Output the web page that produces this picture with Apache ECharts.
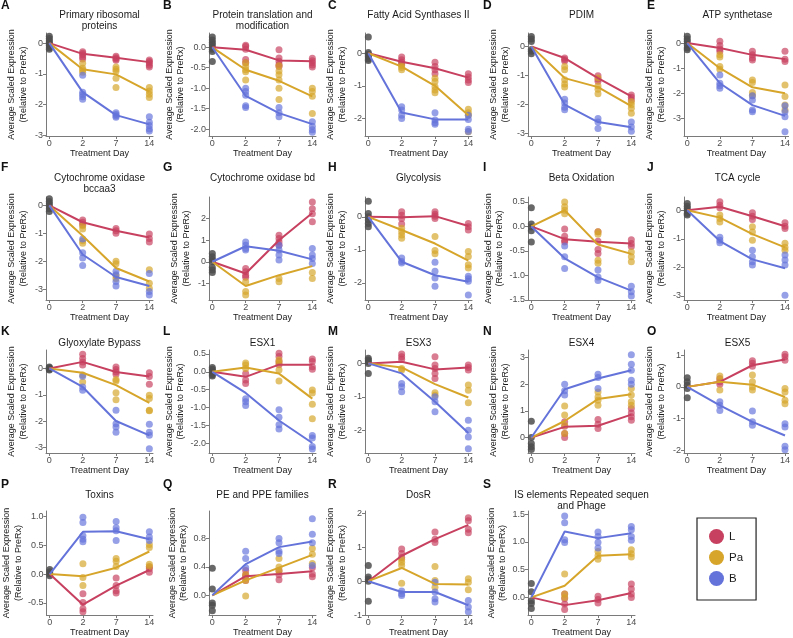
<!DOCTYPE html>
<html>
<head>
<meta charset="utf-8">
<script src="https://cdn.jsdelivr.net/npm/echarts@6/dist/echarts.min.js"></script>
<style>
html, body { margin: 0; padding: 0; background: #fff; }
#chart { width: 793px; height: 638px; }
</style>
</head>
<body>
<div id="chart"></div>
<script>
// treatment days (x categories) and groups
const days = ['0', '2', '7', '14'];
const groups = ['L', 'Pa', 'B'];
const groupColors = ['#C7405F', '#D6A52A', '#6473DA'];
const preColor = '#4D4D4D';

// per panel: pre = day 0 replicates, X_L / X_Pa / X_B = replicates at days 2, 7, 14,
// X_mean = line values (L, Pa, B) at days 2, 7, 14 (all lines start at 0 on day 0)
const A_pre = [0.22, 0.15, 0.08, 0.02, -0.03, -0.08, -0.15, -0.2];
const A_L = [[-0.28, -0.33, -0.38, -0.45, -0.52], [-0.43, -0.48, -0.52, -0.56], [-0.55, -0.6, -0.65, -0.72, -0.78]];
const A_Pa = [[-0.66, -0.82, -0.88, -0.95], [-0.78, -0.85, -0.92, -1.15, -1.45], [-1.45, -1.56, -1.67, -1.77]];
const A_B = [[-1.05, -1.6, -1.68, -1.75, -1.83], [-2.27, -2.33, -2.38, -2.42], [-2.4, -2.58, -2.69, -2.8, -2.87]];
const A_mean = [[-0.35, -0.48, -0.62], [-0.85, -1.02, -1.58], [-1.6, -2.35, -2.65]];

const B_pre = [0.25, 0.18, 0.12, 0.06, 0.0, -0.05, -0.1, -0.35];
const B_L = [[0.05, 0.02, -0.05, -0.3, -0.38], [-0.06, -0.26, -0.34, -0.42, -0.47], [-0.27, -0.33, -0.38, -0.43, -0.48]];
const B_Pa = [[-0.38, -0.47, -0.55, -0.6, -0.8], [-0.45, -0.58, -0.67, -0.8, -1.0, -1.28], [-1.0, -1.08, -1.2, -1.62]];
const B_B = [[-1.0, -1.08, -1.17, -1.43, -1.47], [-1.47, -1.6, -1.7], [-1.82, -1.93, -2.02, -2.08]];
const B_mean = [[-0.06, -0.32, -0.34], [-0.55, -0.82, -1.2], [-1.19, -1.61, -1.88]];

const C_pre = [0.5, 0.02, -0.03, -0.08, -0.12, -0.18, -0.22];
const C_L = [[-0.12, -0.2, -0.28, -0.33], [-0.28, -0.41, -0.51, -0.63], [-0.63, -0.73, -0.82, -0.9]];
const C_Pa = [[-0.38, -0.44, -0.51], [-0.77, -0.87, -1.03, -1.13, -1.21], [-1.72, -1.83, -1.9, -2.41]];
const C_B = [[-1.64, -1.74, -1.9, -2.0], [-1.83, -2.05, -2.13, -2.18], [-1.9, -2.03, -2.33, -2.4]];
const C_mean = [[-0.26, -0.46, -0.75], [-0.41, -1.0, -1.9], [-1.82, -2.03, -2.03]];

const D_pre = [0.34, 0.25, 0.17, -0.11, -0.17, -0.25];
const D_L = [[-0.4, -0.45, -0.5], [-1.01, -1.12, -1.2], [-1.67, -1.75, -1.84]];
const D_Pa = [[-0.69, -0.8, -1.15, -1.29, -1.4], [-1.09, -1.36, -1.47, -1.63], [-1.9, -2.01, -2.13, -2.3]];
const D_B = [[-1.82, -1.95, -2.09, -2.18], [-2.48, -2.6, -2.82], [-2.6, -2.77, -2.92]];
const D_mean = [[-0.4, -1.09, -1.72], [-1.09, -1.4, -2.05], [-2.0, -2.6, -2.78]];

const E_pre = [0.27, 0.16, 0.07, -0.07, -0.2, -0.27];
const E_L = [[0.07, -0.1, -0.24, -0.33], [-0.33, -0.47, -0.6, -0.67], [-0.33, -0.64, -0.73]];
const E_Pa = [[-0.47, -0.56, -0.93, -1.04], [-1.47, -1.57, -1.97, -2.1], [-1.67, -2.13, -2.47, -2.67]];
const E_B = [[-1.27, -1.6, -1.7, -1.8], [-2.1, -2.27, -2.67, -2.73], [-2.5, -2.73, -2.93, -3.53]];
const E_mean = [[-0.2, -0.47, -0.64], [-1.0, -1.76, -2.0], [-1.6, -2.47, -2.9]];

const F_pre = [0.24, 0.14, 0.06, -0.02, -0.12, -0.22];
const F_L = [[-0.52, -0.6, -0.69], [-0.82, -0.9, -0.99], [-1.02, -1.18, -1.3]];
const F_Pa = [[-0.72, -0.84, -1.26, -1.35], [-1.99, -2.08, -2.51, -2.6], [-2.29, -2.77, -2.95]];
const F_B = [[-1.2, -1.69, -1.87, -2.14], [-2.35, -2.47, -2.71, -2.87], [-2.43, -3.07, -3.19]];
const F_mean = [[-0.6, -0.9, -1.14], [-1.08, -2.23, -2.71], [-1.75, -2.55, -2.87]];

const G_pre = [0.38, 0.23, 0.11, 0.0, -0.26, -0.38, -0.5];
const G_L = [[-0.31, -0.46, -0.62, -0.72], [1.23, 1.08, 0.92, 0.77], [2.77, 2.46, 2.23, 1.85]];
const G_Pa = [[-0.92, -1.38, -1.54], [-0.77, -0.92], [-0.5, -0.77]];
const G_B = [[0.92, 0.77, 0.62, 0.54], [0.77, 0.54, 0.31, 0.08], [0.62, 0.31, 0.15, -0.08]];
const G_mean = [[-0.54, 1.0, 2.26], [-1.12, -0.62, -0.2], [0.72, 0.51, 0.11]];

const H_pre = [0.47, 0.1, 0.0, -0.1, -0.2, -0.3];
const H_L = [[0.15, 0.05, -0.05, -0.22], [0.15, 0.08, 0.02, -0.05], [-0.2, -0.3, -0.4]];
const H_Pa = [[-0.35, -0.45, -0.55, -0.65], [-0.6, -1.02, -1.12], [-1.05, -1.2, -1.45, -1.55]];
const H_B = [[-1.25, -1.35, -1.4], [-1.38, -1.65, -1.85, -2.1], [-1.8, -1.88, -1.95, -2.37]];
const H_mean = [[-0.01, 0.02, -0.28], [-0.4, -0.81, -1.33], [-1.36, -1.77, -1.97]];

const I_pre = [0.38, 0.05, -0.01, -0.09, -0.32];
const I_L = [[-0.05, -0.2, -0.28, -0.32], [-0.11, -0.3, -0.47, -0.55], [-0.27, -0.35, -0.41]];
const I_Pa = [[0.5, 0.4, 0.33, 0.26], [-0.11, -0.16, -0.69, -0.75], [-0.52, -0.62, -0.72]];
const I_B = [[-0.4, -0.62, -0.86], [-0.89, -1.03, -1.1], [-1.22, -1.33, -1.42]];
const I_mean = [[-0.26, -0.31, -0.35], [0.33, -0.37, -0.56], [-0.65, -1.04, -1.31]];

const J_pre = [0.23, 0.14, 0.06, -0.02, -0.12, -0.17];
const J_L = [[0.29, 0.17, 0.08], [-0.09, -0.21, -0.33], [-0.44, -0.56, -0.64]];
const J_Pa = [[-0.17, -0.29, -0.41], [-0.58, -0.76, -1.05], [-1.16, -1.3, -1.4]];
const J_B = [[-0.95, -1.05, -1.14], [-1.4, -1.63, -1.8, -1.92], [-1.57, -1.74, -1.92, -2.97]];
const J_mean = [[0.12, -0.21, -0.56], [-0.26, -0.84, -1.3], [-1.08, -1.72, -2.03]];

const K_pre = [0.06, 0.03, 0.0, -0.03, -0.06];
const K_L = [[0.54, 0.38, 0.25, 0.13], [0.06, -0.04, -0.13, -0.22], [-0.16, -0.3, -0.6]];
const K_Pa = [[-0.25, -0.51], [-0.42, -0.47, -0.92, -1.18], [-1.01, -1.14, -1.58, -1.6]];
const K_B = [[-0.29, -0.7, -0.82], [-1.58, -2.09, -2.22, -2.41], [-2.11, -2.41, -2.53, -3.04]];
const K_mean = [[0.25, -0.13, -0.3], [-0.16, -0.63, -1.3], [-0.7, -1.99, -2.53]];

const L_pre = [0.12, 0.07, 0.02, -0.03, -0.08, -0.12];
const L_L = [[-0.05, -0.23, -0.33], [0.52, 0.43, 0.29, 0.2], [0.36, 0.29, 0.14, 0.07]];
const L_Pa = [[0.25, 0.19, 0.09], [0.33, 0.25, 0.05, -0.26], [-0.51, -0.59, -0.91, -1.31]];
const L_B = [[-0.75, -0.84, -0.94], [-1.06, -1.27, -1.48, -1.6], [-1.78, -1.85, -2.09, -2.16]];
const L_mean = [[-0.14, 0.2, 0.2], [0.12, -0.05, -0.75], [-0.59, -1.36, -1.99]];

const M_pre = [0.15, 0.1, 0.05, 0.0, -0.3];
const M_L = [[0.28, 0.2, 0.12], [0.2, -0.05, -0.15, -0.3, -0.45], [-0.05, -0.12, -0.2]];
const M_Pa = [[-0.15, -0.2], [-0.88, -0.95], [-0.65, -0.8, -1.18]];
const M_B = [[-0.6, -0.7, -0.85], [-1.0, -1.15, -1.45], [-1.7, -2.0, -2.2, -2.55]];
const M_mean = [[0.05, -0.18, -0.12], [-0.12, -0.62, -1.02], [-0.3, -1.15, -2.08]];

const N_pre = [0.61, 0.0, -0.22, -0.35, -0.45];
const N_L = [[0.59, 0.42, 0.15, 0.0], [0.68, 0.5, 0.34], [1.09, 0.92, 0.78, 0.65]];
const N_Pa = [[1.18, 0.84, 0.46, 0.15], [1.71, 1.52, 1.4, 1.21], [1.84, 1.59, 1.34, 1.21]];
const N_B = [[2.0, 1.75, 1.59], [2.37, 2.25, 1.84], [3.1, 2.75, 2.52, 2.15, 2.0]];
const N_mean = [[0.4, 0.44, 0.86], [0.62, 1.44, 1.62], [1.81, 2.21, 2.52]];

const O_pre = [0.29, 0.16, 0.05, -0.05, -0.34];
const O_L = [[0.26, 0.16, 0.08], [0.82, 0.74, 0.65], [1.03, 0.95, 0.84]];
const O_Pa = [[0.34, 0.23, -0.1], [0.37, 0.16, 0.0, -0.1], [-0.05, -0.16, -0.42, -0.53]];
const O_B = [[-0.47, -0.58, -0.74], [-0.76, -1.1, -1.21], [-1.16, -1.26, -1.87, -1.98]];
const O_mean = [[0.16, 0.68, 0.86], [0.16, 0.07, -0.32], [-0.58, -1.1, -1.53]];

const P_pre = [0.08, 0.04, 0.0, -0.03];
const P_L = [[-0.34, -0.49, -0.6, -0.65], [-0.07, -0.2, -0.29, -0.33], [0.12, 0.09, 0.03]];
const P_Pa = [[0.18, -0.06, -0.2], [0.27, 0.22, 0.13], [0.51, 0.46, 0.17, 0.13]];
const P_B = [[0.98, 0.89, 0.66, 0.6, 0.56], [0.91, 0.8, 0.75, 0.58], [0.73, 0.64, 0.58]];
const P_mean = [[-0.53, -0.2, 0.07], [-0.04, 0.11, 0.39], [0.73, 0.74, 0.6]];

const Q_pre = [0.38, 0.09, -0.11, -0.14, -0.22];
const Q_L = [[0.35, 0.29, 0.26, 0.21], [0.35, 0.29, 0.22], [0.39, 0.3, 0.26]];
const Q_Pa = [[0.29, 0.21, -0.01], [0.52, 0.4, 0.34], [0.66, 0.58, 0.45]];
const Q_B = [[0.62, 0.52, 0.39], [0.8, 0.74, 0.62, 0.59], [1.08, 0.86, 0.74, 0.42]];
const Q_mean = [[0.27, 0.3, 0.34], [0.21, 0.39, 0.57], [0.44, 0.68, 0.76]];

const R_pre = [0.46, 0.12, 0.06, 0.0, -0.59];
const R_L = [[0.95, 0.82, 0.7], [1.45, 1.24, 1.14], [1.87, 1.78, 1.53, 1.43]];
const R_Pa = [[0.65, 0.56, 0.46, -0.06], [0.43, 0.02, -0.18], [0.07, -0.03, -0.25]];
const R_B = [[-0.29, -0.37, -0.42], [-0.03, -0.32, -0.52, -0.61], [-0.57, -0.76, -0.9]];
const R_mean = [[0.75, 1.24, 1.66], [0.39, -0.08, -0.1], [-0.32, -0.32, -0.71]];

const S_pre = [0.25, 0.1, -0.06, -0.11, -0.2];
const S_L = [[0.06, -0.02, -0.12, -0.22], [0.02, -0.04, -0.1], [0.24, 0.15, 0.06, 0.0]];
const S_Pa = [[0.42, 0.06, 0.0], [0.83, 0.75, 0.69], [0.86, 0.79, 0.73]];
const S_B = [[1.47, 1.35, 1.04, 0.99], [1.18, 1.1, 0.99, 0.89], [1.28, 1.22, 1.1, 1.03]];
const S_mean = [[-0.14, -0.05, 0.08], [0.21, 0.75, 0.78], [1.19, 1.07, 1.16]];

// panel list: title, data, y range and y tick labels
const panels = [
  { id: 'A', title: 'Primary ribosomal\nproteins', pre: A_pre, pts: [A_L, A_Pa, A_B], mean: A_mean, y: [-3.03, 0.33], ticks: [-3, -2, -1, 0], dp: 0 },
  { id: 'B', title: 'Protein translation and\nmodification', pre: B_pre, pts: [B_L, B_Pa, B_B], mean: B_mean, y: [-2.17, 0.35], ticks: [-2, -1.5, -1, -0.5, 0], dp: 1 },
  { id: 'C', title: 'Fatty Acid Synthases II', pre: C_pre, pts: [C_L, C_Pa, C_B], mean: C_mean, y: [-2.54, 0.62], ticks: [-2, -1, 0], dp: 0 },
  { id: 'D', title: 'PDIM', pre: D_pre, pts: [D_L, D_Pa, D_B], mean: D_mean, y: [-3.08, 0.46], ticks: [-3, -2, -1, 0], dp: 0 },
  { id: 'E', title: 'ATP synthetase', pre: E_pre, pts: [E_L, E_Pa, E_B], mean: E_mean, y: [-3.7, 0.4], ticks: [-3, -2, -1, 0], dp: 0 },
  { id: 'F', title: 'Cytochrome oxidase\nbccaa3', pre: F_pre, pts: [F_L, F_Pa, F_B], mean: F_mean, y: [-3.37, 0.3], ticks: [-3, -2, -1, 0], dp: 0 },
  { id: 'G', title: 'Cytochrome oxidase bd', pre: G_pre, pts: [G_L, G_Pa, G_B], mean: G_mean, y: [-1.77, 3.0], ticks: [-1, 0, 1, 2], dp: 0 },
  { id: 'H', title: 'Glycolysis', pre: H_pre, pts: [H_L, H_Pa, H_B], mean: H_mean, y: [-2.52, 0.6], ticks: [-2, -1, 0], dp: 0 },
  { id: 'I', title: 'Beta Oxidation', pre: I_pre, pts: [I_L, I_Pa, I_B], mean: I_mean, y: [-1.5, 0.6], ticks: [-1.5, -1, -0.5, 0, 0.5], dp: 1 },
  { id: 'J', title: 'TCA cycle', pre: J_pre, pts: [J_L, J_Pa, J_B], mean: J_mean, y: [-3.14, 0.46], ticks: [-3, -2, -1, 0], dp: 0 },
  { id: 'K', title: 'Glyoxylate Bypass', pre: K_pre, pts: [K_L, K_Pa, K_B], mean: K_mean, y: [-3.2, 0.7], ticks: [-3, -2, -1, 0], dp: 0 },
  { id: 'L', title: 'ESX1', pre: L_pre, pts: [L_L, L_Pa, L_B], mean: L_mean, y: [-2.27, 0.61], ticks: [-2, -1.5, -1, -0.5, 0, 0.5], dp: 1 },
  { id: 'M', title: 'ESX3', pre: M_pre, pts: [M_L, M_Pa, M_B], mean: M_mean, y: [-2.68, 0.4], ticks: [-2, -1, 0], dp: 0 },
  { id: 'N', title: 'ESX4', pre: N_pre, pts: [N_L, N_Pa, N_B], mean: N_mean, y: [-0.58, 3.28], ticks: [0, 1, 2, 3], dp: 0 },
  { id: 'O', title: 'ESX5', pre: O_pre, pts: [O_L, O_Pa, O_B], mean: O_mean, y: [-2.08, 1.16], ticks: [-2, -1, 0, 1], dp: 0 },
  { id: 'P', title: 'Toxins', pre: P_pre, pts: [P_L, P_Pa, P_B], mean: P_mean, y: [-0.71, 1.09], ticks: [-0.5, 0, 0.5, 1], dp: 1 },
  { id: 'Q', title: 'PE and PPE families', pre: Q_pre, pts: [Q_L, Q_Pa, Q_B], mean: Q_mean, y: [-0.28, 1.19], ticks: [0, 0.4, 0.8], dp: 1 },
  { id: 'R', title: 'DosR', pre: R_pre, pts: [R_L, R_Pa, R_B], mean: R_mean, y: [-1.0, 2.07], ticks: [-1, 0, 1, 2], dp: 0 },
  { id: 'S', title: 'IS elements Repeated sequen\nand Phage', pre: S_pre, pts: [S_L, S_Pa, S_B], mean: S_mean, y: [-0.32, 1.56], ticks: [0, 0.5, 1, 1.5], dp: 1 },
];

// layout (pixels)
const colLeft = [46, 209, 365, 528, 684];
const letterX = [1, 163, 328, 483, 647];
const rowTop = [33, 197, 350, 511];
const rowBottom = [136, 300, 453, 616];
const letterTop = [0, 162, 326, 479];
const titleTop = [10, 173, 338, 490];
const plotW = 107;

const font = '"Liberation Sans", Arial, sans-serif';
const axisGray = '#7a7a7a';
const textGray = '#4d4d4d';
const dayIdx = [0, 1, 2, 3];

const grid = [], xAxis = [], yAxis = [], series = [], title = [];

panels.forEach((p, i) => {
  const row = Math.floor(i / 5);
  const col = i % 5;
  const left = colLeft[col];
  const top = rowTop[row];
  const height = rowBottom[row] - top;

  grid.push({ left: left, top: top, width: plotW, height: height });

  title.push({
    text: p.id, left: letterX[col], top: letterTop[row], padding: 0,
    textStyle: { fontFamily: font, fontSize: 12, fontWeight: 'bold', color: '#111' },
  });
  title.push({
    text: p.title, left: left + plotW / 2, top: titleTop[row], textAlign: 'center', padding: 0,
    textStyle: { fontFamily: font, fontSize: 10, fontWeight: 'normal', lineHeight: 10.5, color: '#1a1a1a' },
  });

  xAxis.push({
    gridIndex: i,
    type: 'value',
    min: -0.1,
    max: 3.11,
    name: 'Treatment Day',
    nameLocation: 'middle',
    nameGap: 11,
    nameTextStyle: { fontFamily: font, fontSize: 9, color: '#1a1a1a' },
    axisLine: { show: true, onZero: false, lineStyle: { color: axisGray, width: 1 } },
    axisTick: { show: true, length: 3, customValues: dayIdx, lineStyle: { color: axisGray } },
    axisLabel: {
      customValues: dayIdx, margin: 3, fontFamily: font, fontSize: 9, color: textGray,
      formatter: (v) => days[Math.round(v)],
    },
    splitLine: { show: false },
  });

  yAxis.push({
    gridIndex: i,
    type: 'value',
    min: p.y[0],
    max: p.y[1],
    name: 'Average Scaled Expression\n(Relative to PreRx)',
    nameLocation: 'middle',
    nameGap: 17,
    nameTextStyle: { fontFamily: font, fontSize: 9, lineHeight: 11.5, color: '#1a1a1a' },
    axisLine: { show: true, onZero: false, lineStyle: { color: axisGray, width: 1 } },
    axisTick: { show: true, length: 3, customValues: p.ticks, lineStyle: { color: axisGray } },
    axisLabel: {
      customValues: p.ticks, margin: 3, fontFamily: font, fontSize: 9, color: textGray,
      formatter: (v) => v.toFixed(p.dp),
    },
    splitLine: { show: false },
  });

  // day 0 (PreRx) replicates
  series.push({
    type: 'scatter', xAxisIndex: i, yAxisIndex: i, symbolSize: 7, z: 2,
    itemStyle: { color: preColor, opacity: 0.85 },
    data: p.pre.map((v) => [0, v]),
    silent: true,
  });

  groups.forEach((g, k) => {
    series.push({
      type: 'scatter', xAxisIndex: i, yAxisIndex: i, symbolSize: 7, z: 2,
      itemStyle: { color: groupColors[k], opacity: 0.68 },
      data: p.pts[k].flatMap((vals, d) => vals.map((v) => [d + 1, v])),
      silent: true,
    });
  });
  groups.forEach((g, k) => {
    series.push({
      name: g, type: 'line', xAxisIndex: i, yAxisIndex: i, z: 3,
      symbol: 'none', silent: true,
      lineStyle: { color: groupColors[k], width: 2 },
      itemStyle: { color: groupColors[k] },
      data: [[0, 0]].concat(p.mean[k].map((v, d) => [d + 1, v])),
    });
  });
});

const myChart = echarts.init(document.getElementById('chart'), null, { renderer: 'canvas' });
myChart.setOption({
  animation: false,
  backgroundColor: '#fff',
  title: title,
  grid: grid,
  xAxis: xAxis,
  yAxis: yAxis,
  legend: {
    data: groups.map((g, k) => ({ name: g, icon: 'circle', itemStyle: { color: groupColors[k] } })),
    orient: 'vertical',
    left: 697,
    top: 518,
    itemWidth: 15,
    itemHeight: 15,
    itemGap: 6,
    padding: [11, 13, 14, 12],
    borderColor: '#222',
    borderWidth: 1.2,
    selectedMode: false,
    textStyle: { fontFamily: font, fontSize: 11.5, color: '#1a1a1a' },
  },
  series: series,
});
</script>
</body>
</html>
